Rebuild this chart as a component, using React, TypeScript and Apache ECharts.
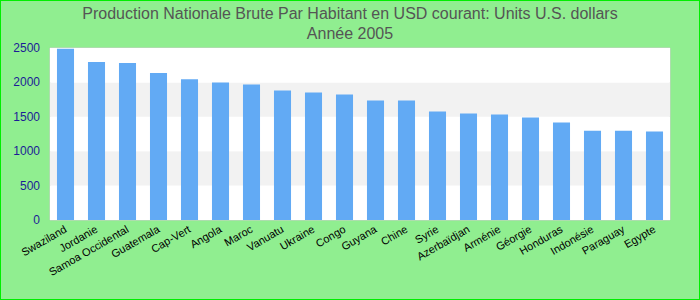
import React, { useEffect, useRef } from "react";
import * as echarts from "echarts";

const categories = [
  "Swaziland", "Jordanie", "Samoa Occidental", "Guatemala", "Cap-Vert", "Angola", "Maroc",
  "Vanuatu", "Ukraine", "Congo", "Guyana", "Chine", "Syrie", "Azerbaïdjan", "Arménie",
  "Géorgie", "Honduras", "Indonésie", "Paraguay", "Egypte",
];
const values = [
  2490, 2297, 2282, 2137, 2044, 2000, 1971, 1883, 1854, 1825, 1737, 1737, 1577, 1547, 1533,
  1489, 1416, 1299, 1299, 1285,
];
const yTicks = { min: 0, max: 2500, interval: 500 };
const titleLines = [
  "Production Nationale Brute Par Habitant en USD courant: Units U.S. dollars",
  "Année 2005",
];

export default function App() {
  const ref = useRef<HTMLDivElement>(null);
  useEffect(() => {
    document.body.style.margin = "0";
    const chart = echarts.init(ref.current!, null, { renderer: "svg" });
    chart.setOption({
      animation: false,
      backgroundColor: "#90ee90",
      textStyle: { fontFamily: "Liberation Sans, Arial, sans-serif" },
      title: {
        text: titleLines.join("\n"),
        left: "center",
        top: 2,
        padding: 0,
        textStyle: {
          fontSize: 16,
          fontWeight: "normal",
          color: "#555555",
          lineHeight: 20,
          fontFamily: "Liberation Sans, Arial, sans-serif",
        },
      },
      grid: {
        left: 49,
        right: 29,
        top: 47,
        bottom: 79,
        show: true,
        borderColor: "#cccccc",
        borderWidth: 1,
        backgroundColor: "#ffffff",
      },
      xAxis: {
        type: "category",
        data: categories,
        axisTick: { show: false },
        axisLine: { show: false },
        axisLabel: {
          rotate: 30,
          interval: 0,
          fontSize: 11,
          color: "#000000",
          margin: 8,
        },
      },
      yAxis: {
        type: "value",
        min: yTicks.min,
        max: yTicks.max,
        interval: yTicks.interval,
        axisLine: { show: false },
        axisTick: { show: false },
        splitLine: { show: false },
        splitArea: { show: true, areaStyle: { color: ["#ffffff", "#f2f2f2"] } },
        axisLabel: {
          fontSize: 12,
          color: "#1c1c96",
          margin: 10,
          formatter: (v: number) => String(v),
        },
      },
      series: [
        {
          type: "bar",
          data: values,
          barWidth: "55%",
          itemStyle: { color: "#62aaf4" },
        },
      ],
    });
    return () => chart.dispose();
  }, []);
  return (
    <div
      ref={ref}
      style={{ width: 700, height: 300, boxSizing: "border-box", border: "1px solid #00ee00" }}
    />
  );
}
